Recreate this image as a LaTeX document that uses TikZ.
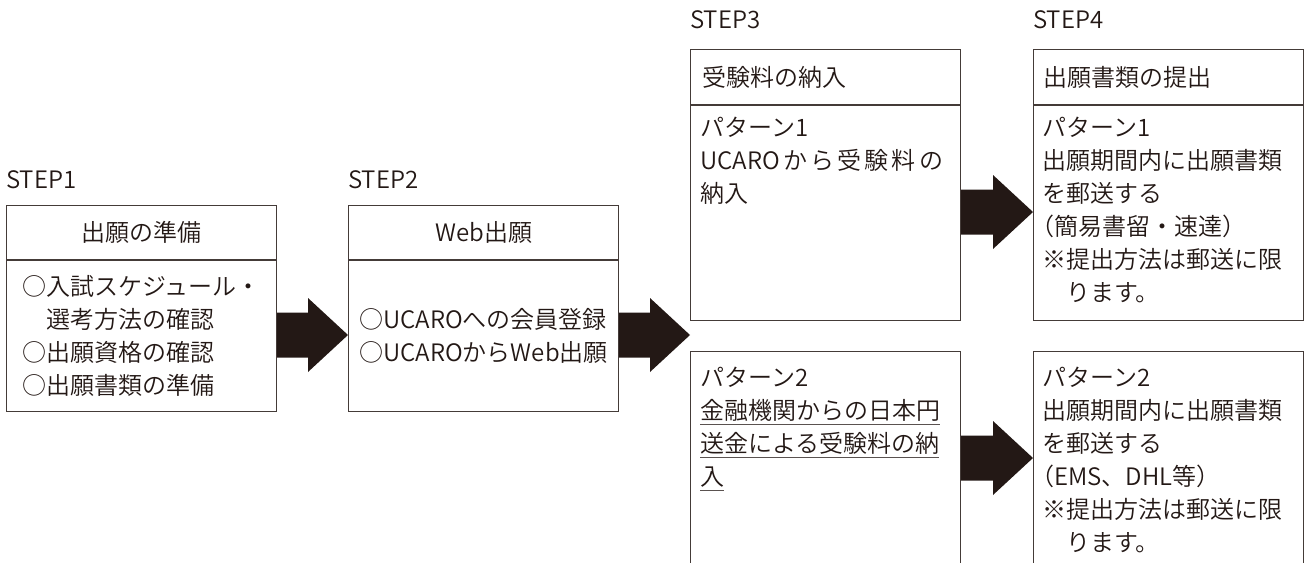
\documentclass[tikz,border=0pt]{standalone}
\usepackage{fontspec}
\setmainfont{Noto Sans CJK JP}[UprightFont={* DemiLight}]
\usetikzlibrary{positioning,calc}
\definecolor{ink}{HTML}{231815}
\newsavebox\ulbox
\newcommand{\undl}[1]{\sbox\ulbox{#1}\rlap{\color{ink!75}\rule[-5.5pt]{\wd\ulbox}{1.1pt}}\usebox\ulbox}
\tikzset{x=1pt,y=-1pt,
every node/.style={inner sep=0pt,text=ink},
lbl/.style={anchor=west,font=\fontsize{24}{33}\selectfont},
box/.style={rectangle,draw=ink!85,line width=1.2pt,anchor=north west,
  minimum width=270pt,align=left,font=\fontsize{24}{33}\selectfont},
hd/.style={box,minimum height=55pt},
tx/.style={anchor=north west,align=left,font=\fontsize{24}{33}\selectfont,
  execute at begin node=\strut},
fat/.style={fill=ink,to path={($(\tikztostart)+(0,-22.5)$)
  -- ($(\tikztotarget)+(-40,-22.5)$) -- ($(\tikztotarget)+(-40,-37)$)
  -- (\tikztotarget) -- ($(\tikztotarget)+(-40,37)$)
  -- ($(\tikztotarget)+(-40,22.5)$) -- ($(\tikztostart)+(0,22.5)$) -- cycle}},
}

\begin{document}
\begin{tikzpicture}
\useasboundingbox (0,0) rectangle (1305,562);
\clip (0,0) rectangle (1305,562);

% step labels
\node[lbl] (st1) at (6,180) {STEP1};
\node[lbl] (st2) at (348,180) {STEP2};
\node[lbl] (st3) at (690,20) {STEP3};
\node[lbl] (st4) at (1033,20) {STEP4};

% step 1 and 2
\node[hd,minimum height=54pt] (h1) at (6,205) {出願の準備};
\node[box,minimum height=151pt] (b1) at (h1.south west)
  {○入試スケジュール・\\\hspace{1em}選考方法の確認\\○出願資格の確認\\○出願書類の準備};
\node[hd,minimum height=54pt] (h2) at (348,205) {Web出願};
\node[box,minimum height=151pt] (b2) at (h2.south west)
  {○UCAROへの会員登録\\○UCAROからWeb出願};

% step 3 and 4, pattern 1
\node[hd,text width=246pt] (h3) at (690,49) {受験料の納入};
\node[box,minimum height=215pt] (b3) at (h3.south west) {};
\node[tx,below right=12pt and 10pt of b3.north west] (p3)
  {パターン1\\\makebox[243pt][s]{UCARO\hfill か\hfill ら\hfill 受\hfill 験\hfill 料\hfill の}\\納入};
\node[hd,text width=250pt] (h4) at (1033,49) {出願書類の提出};
\node[box,minimum height=215pt] (b4) at (h4.south west) {};
\node[tx,below right=12pt and 9pt of b4.north west] (p4)
  {パターン1\\出願期間内に出願書類\\を郵送する\\\hspace{-12pt}（簡易書留・速達）\\※提出方法は郵送に限\\\hspace{1em}ります。};

% pattern 2
\node[box,minimum height=240pt] (b5) at (690,351) {};
\node[tx,below right=16pt and 10pt of b5.north west] (p5)
  {パターン2\\\undl{金融機関からの日本円}\\\undl{送金による受験料の納}\\\undl{入}};
\node[box,minimum height=240pt] (b6) at (1033,351) {};
\node[tx,below right=16pt and 9pt of b6.north west] (p6)
  {パターン2\\出願期間内に出願書類\\を郵送する\\\hspace{-12pt}（EMS、DHL等）\\※提出方法は郵送に限\\\hspace{1em}ります。};

% block arrows
\path[fat] (b1.east |- 0,335) to (b2.west |- 0,335);
\path[fat] (b2.east |- 0,335) to (b3.west |- 0,335);
\path[fat] (b3.east |- 0,212) to (b4.west |- 0,212);
\path[fat] (b5.east |- 0,458) to (b6.west |- 0,458);
\end{tikzpicture}
\end{document}
